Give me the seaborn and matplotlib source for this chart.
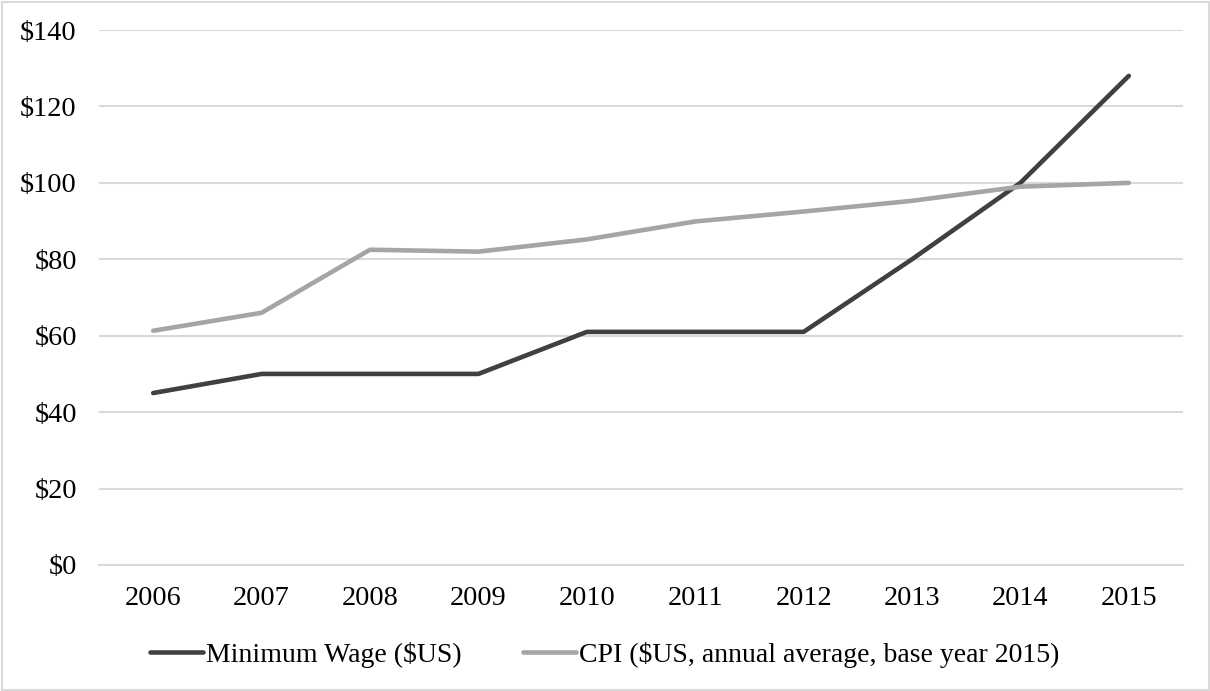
import matplotlib
matplotlib.use("Agg")
import matplotlib.pyplot as plt
from matplotlib.patches import Rectangle
from matplotlib.ticker import FuncFormatter, MultipleLocator
import pandas as pd
import seaborn as sns

years = [2006, 2007, 2008, 2009, 2010, 2011, 2012, 2013, 2014, 2015]
min_wage = [45, 50, 50, 50, 61, 61, 61, 80, 100, 128]
cpi = [61.3, 66.0, 82.5, 82.0, 85.2, 89.9, 92.5, 95.3, 99.0, 100.0]
series_names = ["Minimum Wage ($US)", "CPI ($US, annual average, base year 2015)"]
series_colors = ["#404040", "#A5A5A5"]

df = pd.concat([
    pd.DataFrame({"year": years, "value": min_wage, "series": series_names[0]}),
    pd.DataFrame({"year": years, "value": cpi, "series": series_names[1]}),
])

sns.set_theme(style="white")
plt.rcParams["font.family"] = ["Liberation Serif", "DejaVu Serif"]
plt.rcParams["text.color"] = "black"

fig = plt.figure(figsize=(12.1, 6.91), dpi=100)
ax = fig.add_axes([99 / 1210, 1 - 565 / 691, (1183 - 99) / 1210, (565 - 30) / 691])

sns.lineplot(data=df, x="year", y="value", hue="series", hue_order=series_names,
             palette=series_colors, linewidth=3.3, ax=ax, legend=False,
             solid_capstyle="round")

ax.set_xlim(2005.5, 2015.5)
ax.set_ylim(0, 140)
ax.set_xticks(years)
ax.set_xticklabels([str(y) for y in years])
ax.yaxis.set_major_locator(MultipleLocator(20))
ax.yaxis.set_major_formatter(FuncFormatter(lambda v, p: f"${v:.0f}"))
ax.set_xlabel("")
ax.set_ylabel("")

ax.grid(axis="y", color="#D9D9D9", linewidth=1.5)
ax.grid(axis="x", visible=False)
ax.set_axisbelow(True)
for side in ["top", "left", "right"]:
    ax.spines[side].set_visible(False)
ax.spines["bottom"].set_color("#D9D9D9")
ax.spines["bottom"].set_linewidth(1.5)
ax.tick_params(axis="both", length=0, labelsize=20.3, colors="black")
ax.tick_params(axis="y", pad=16)
ax.tick_params(axis="x", pad=15)

handles = [plt.Line2D([], [], color=c, linewidth=3.3, solid_capstyle="round")
           for c in series_colors]
fig.legend(handles, series_names, loc="center", bbox_to_anchor=(0.5, 1 - 655 / 691),
           ncol=2, frameon=False, fontsize=20.0, handlelength=1.9,
           handletextpad=0.12, columnspacing=2.2)

fig.add_artist(Rectangle((1.5 / 1210, 1.5 / 691), 1 - 3 / 1210, 1 - 3 / 691,
                         transform=fig.transFigure, fill=False,
                         edgecolor="#D9D9D9", linewidth=1.5))

fig.savefig("out.png", dpi=100)
